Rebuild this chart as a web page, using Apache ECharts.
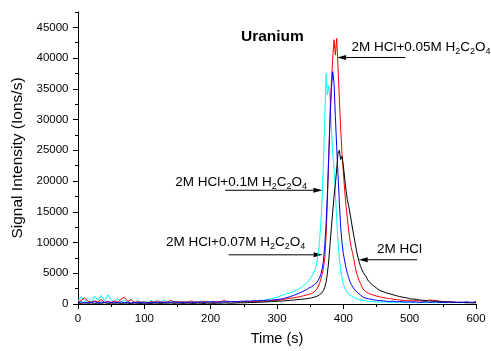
<!DOCTYPE html>
<html>
<head>
<meta charset="utf-8">
<script src="https://cdn.jsdelivr.net/npm/echarts@6/dist/echarts.min.js"></script>
<style>
html,body{margin:0;padding:0;background:#fff;}
#chart{width:491px;height:351px;}
</style>
</head>
<body>
<div id="chart"></div>
<script>
// Sampling times (s): coarse on the baseline, finer across the elution peak
const time = [
  0,5,10,15,20,25,30,35,40,45,
  50,55,60,65,70,75,80,85,90,95,
  100,105,110,115,120,125,130,135,140,145,
  150,155,160,165,170,175,180,185,190,195,
  200,205,210,215,220,225,230,235,240,245,
  250,255,260,265,270,275,280,285,290,295,
  300,305,310,315,320,325,330,335,340,
  342,344,346,348,350,352,354,356,358,360,
  362,364,366,368,370,372,374,376,378,380,
  382,384,386,388,390,392,394,396,398,400,
  402,404,406,408,410,412,414,416,418,420,
  422,424,426,428,430,432,434,436,438,440,
  445,450,455,460,465,470,475,480,485,490,
  495,500,505,510,515,520,525,530,535,540,
  545,550,555,560,565,570,575,580,585,590,
  595,600
];

// 2M HCl + 0.1M H2C2O4 (cyan)
const hcl01 = [
  500,1200,400,900,300,1300,600,1400,500,1500,
  700,300,900,400,600,300,800,300,500,250,
  400,200,600,300,500,250,700,300,400,250,
  500,300,350,200,450,250,400,300,500,250,
  450,300,350,250,500,300,400,350,350,300,
  400,350,450,400,500,450,600,700,800,1000,
  1100,1300,1500,1700,1800,2000,2300,2600,3000,
  3200,3400,3600,3800,4100,4400,4800,5300,5900,6700,
  8000,10000,13000,17000,23000,30000,37500,34000,35500,33000,
  28500,24500,22000,18000,14000,10000,7500,5500,4200,3200,
  2700,2200,1900,1600,1400,1300,1150,1050,950,850,
  800,700,650,600,550,550,500,450,450,400,
  400,350,300,350,300,250,300,250,300,250,
  300,250,300,250,200,250,200,300,200,250,
  200,250,200,250,200,250,200,250,200,250,
  200,250
];

// 2M HCl + 0.05M H2C2O4 (red)
const hcl005 = [
  300,600,1000,400,300,500,350,700,300,400,
  250,500,300,800,1100,400,700,300,400,250,
  350,200,400,300,500,250,350,300,600,250,
  400,300,350,250,500,300,350,250,450,300,
  350,250,400,300,600,300,400,300,350,300,
  400,350,450,400,450,400,500,450,550,550,
  600,650,750,850,950,1000,1100,1200,1350,
  1400,1450,1500,1550,1650,1700,1800,1950,2150,2400,
  2800,3300,4000,4800,5800,7500,11000,17000,24000,31000,
  36000,40000,43000,40500,43200,38500,33500,28500,24500,21500,
  18500,16000,14000,12000,10300,9200,8200,7200,6000,5000,
  4400,3800,3300,2800,2400,2200,2000,1850,1750,1650,
  1450,1300,1150,1050,950,850,800,700,650,600,
  550,550,500,550,500,450,500,650,600,550,
  450,400,350,350,300,300,250,300,250,250,
  200,250
];

// 2M HCl (black)
const hclOnly = [
  150,100,200,120,180,100,150,120,200,100,
  150,120,180,100,150,120,100,150,120,100,
  150,120,100,150,120,100,150,120,180,100,
  150,120,100,150,120,100,150,120,100,150,
  120,100,150,120,180,150,120,150,180,200,
  180,220,250,230,280,300,320,350,380,400,
  450,480,500,550,600,650,700,750,800,
  820,850,880,900,950,1000,1050,1100,1150,1250,
  1350,1500,1650,1850,2200,2700,3500,5000,7000,9800,
  12500,15000,17500,19500,22000,24500,25000,23500,24000,22500,
  20500,18500,17000,16000,14800,13500,12200,11000,9800,8600,
  7600,6800,6100,5600,5100,4800,4500,4100,3700,3400,
  3000,2600,2200,2000,1800,1650,1500,1350,1200,1100,
  1000,850,800,750,650,600,550,500,450,450,
  400,350,350,300,300,250,250,250,200,200,
  200,200
];

// 2M HCl + 0.07M H2C2O4 (blue)
const hcl007 = [
  200,350,150,300,200,400,150,300,250,350,
  200,300,150,350,200,300,150,250,200,300,
  150,250,200,300,250,350,200,300,250,400,
  200,300,250,350,200,300,250,400,200,350,
  300,400,250,350,300,450,350,400,350,450,
  450,500,450,550,500,600,550,650,600,700,
  700,800,900,1050,1200,1400,1600,1850,2100,
  2200,2300,2450,2600,2700,2800,2950,3100,3300,3500,
  3800,4200,4800,5700,7000,9500,13000,18000,24000,30000,
  35000,37800,36000,30500,25500,21000,16500,12500,10000,8200,
  7000,5900,5000,4300,3600,3200,2800,2500,2200,2000,
  1800,1600,1450,1300,1100,1000,950,900,850,800,
  700,600,550,500,450,400,450,350,400,350,
  300,350,300,350,250,300,350,250,300,350,
  250,300,250,350,300,250,300,250,350,300,
  250,400
];

// Axis ticks
const xTicks = [0, 100, 200, 300, 400, 500, 600];
const yMajorTicks = [0, 5000, 10000, 15000, 20000, 25000, 30000, 35000, 40000, 45000];
const yMinorTicks = [2500, 7500, 12500, 17500, 22500, 27500, 32500, 37500, 42500, 47500];

// Callouts: label text, arrow tip [t, signal], arrow tail time, label anchor [t, signal] (left, baseline)
const noteText = [
  '2M HCl+0.05M H{s|2}C{s|2}O{s|4}',
  '2M HCl+0.1M H{s|2}C{s|2}O{s|4}',
  '2M HCl+0.07M H{s|2}C{s|2}O{s|4}',
  '2M HCl'
];
const noteTip = [[390.6, 40100], [368.4, 18500], [368.7, 8000], [423.2, 7200]];
const noteTail = [493.6, 222.1, 227.1, 511.2];
const noteAnchor = [[412.2, 41000], [146.7, 18950], [132.7, 9200], [450.9, 8100]];

const FONT = 'Liberation Sans, Arial, Helvetica, sans-serif';

const chart = echarts.init(document.getElementById('chart'), null, { renderer: 'canvas' });

function pairs(values) {
  return time.map((t, i) => [t, values[i]]);
}

function lineSeries(name, values, color) {
  return {
    name: name,
    type: 'line',
    data: pairs(values),
    xAxisIndex: 0,
    yAxisIndex: 0,
    symbol: 'none',
    silent: true,
    lineStyle: { color: color, width: 1 },
    itemStyle: { color: color }
  };
}

chart.setOption({
  animation: false,
  backgroundColor: '#ffffff',
  title: {
    text: 'Uranium',
    left: 241,
    top: 29,
    padding: 0,
    textStyle: { fontFamily: FONT, fontSize: 15.5, fontWeight: 'bold', color: '#000' }
  },
  grid: { left: 78, right: 15, top: 12, bottom: 46, containLabel: false },
  xAxis: {
    type: 'value',
    min: 0,
    max: 600,
    interval: 100,
    name: 'Time (s)',
    nameLocation: 'middle',
    nameGap: 27,
    nameTextStyle: { fontFamily: FONT, fontSize: 14.5, color: '#000' },
    axisLine: { show: true, lineStyle: { color: '#000', width: 1 } },
    axisTick: { show: true, length: 5, lineStyle: { color: '#000', width: 1 } },
    minorTick: { show: true, splitNumber: 2, length: 3, lineStyle: { color: '#000', width: 1 } },
    axisLabel: {
      margin: 9,
      fontFamily: FONT, fontSize: 11.5, color: '#000',
      customValues: xTicks
    },
    splitLine: { show: false },
    minorSplitLine: { show: false }
  },
  yAxis: [
    {
      type: 'value',
      min: 0,
      max: 47500,
      interval: 5000,
      position: 'left',
      name: 'Signal Intensity (Ions/s)',
      nameLocation: 'middle',
      nameGap: 50,
      nameTextStyle: { fontFamily: FONT, fontSize: 15.5, color: '#000' },
      axisLine: { show: true, lineStyle: { color: '#000', width: 1 } },
      axisTick: { show: true, length: 5, customValues: yMajorTicks, lineStyle: { color: '#000', width: 1 } },
      axisLabel: {
        margin: 9.5,
        fontFamily: FONT, fontSize: 11.5, color: '#000',
        customValues: yMajorTicks,
        formatter: v => (v % 5000 === 0 ? String(v) : '')
      },
      splitLine: { show: false }
    },
    {
      type: 'value',
      min: 0,
      max: 47500,
      position: 'left',
      axisLine: { show: false },
      axisTick: { show: true, length: 3, customValues: yMinorTicks, lineStyle: { color: '#000', width: 1 } },
      axisLabel: { show: false },
      splitLine: { show: false }
    }
  ],
  series: [
    lineSeries('2M HCl+0.1M H2C2O4', hcl01, '#00ffff'),
    lineSeries('2M HCl+0.05M H2C2O4', hcl005, '#ff0000'),
    lineSeries('2M HCl', hclOnly, '#000000'),
    lineSeries('2M HCl+0.07M H2C2O4', hcl007, '#0000ff')
  ]
});

// Callout arrows and labels, positioned through the axes
function toPx(p) {
  return chart.convertToPixel({ xAxisIndex: 0, yAxisIndex: 0 }, p);
}

const graphics = [];
noteText.forEach((txt, i) => {
  const tip = toPx(noteTip[i]);
  const tail = toPx([noteTail[i], noteTip[i][1]]);
  const anchor = toPx(noteAnchor[i]);
  const dir = tip[0] > tail[0] ? 1 : -1;
  const headLen = 9, headHalf = 2.5;
  graphics.push({
    type: 'line',
    silent: true,
    shape: { x1: tail[0], y1: tip[1], x2: tip[0] - dir * headLen, y2: tip[1] },
    style: { stroke: '#000', lineWidth: 1 }
  });
  graphics.push({
    type: 'polygon',
    silent: true,
    shape: { points: [[tip[0], tip[1]], [tip[0] - dir * headLen, tip[1] - headHalf], [tip[0] - dir * headLen, tip[1] + headHalf]] },
    style: { fill: '#000' }
  });
  graphics.push({
    type: 'text',
    silent: true,
    x: anchor[0],
    y: anchor[1] - 5,
    style: {
      text: txt,
      fill: '#000',
      font: '13.5px ' + FONT,
      lineHeight: 18,
      align: 'left',
      verticalAlign: 'middle',
      rich: {
        s: { fontSize: 9, fontFamily: FONT, fill: '#000', lineHeight: 9, verticalAlign: 'bottom' }
      }
    }
  });
});

chart.setOption({ graphic: { elements: graphics } });
</script>
</body>
</html>
